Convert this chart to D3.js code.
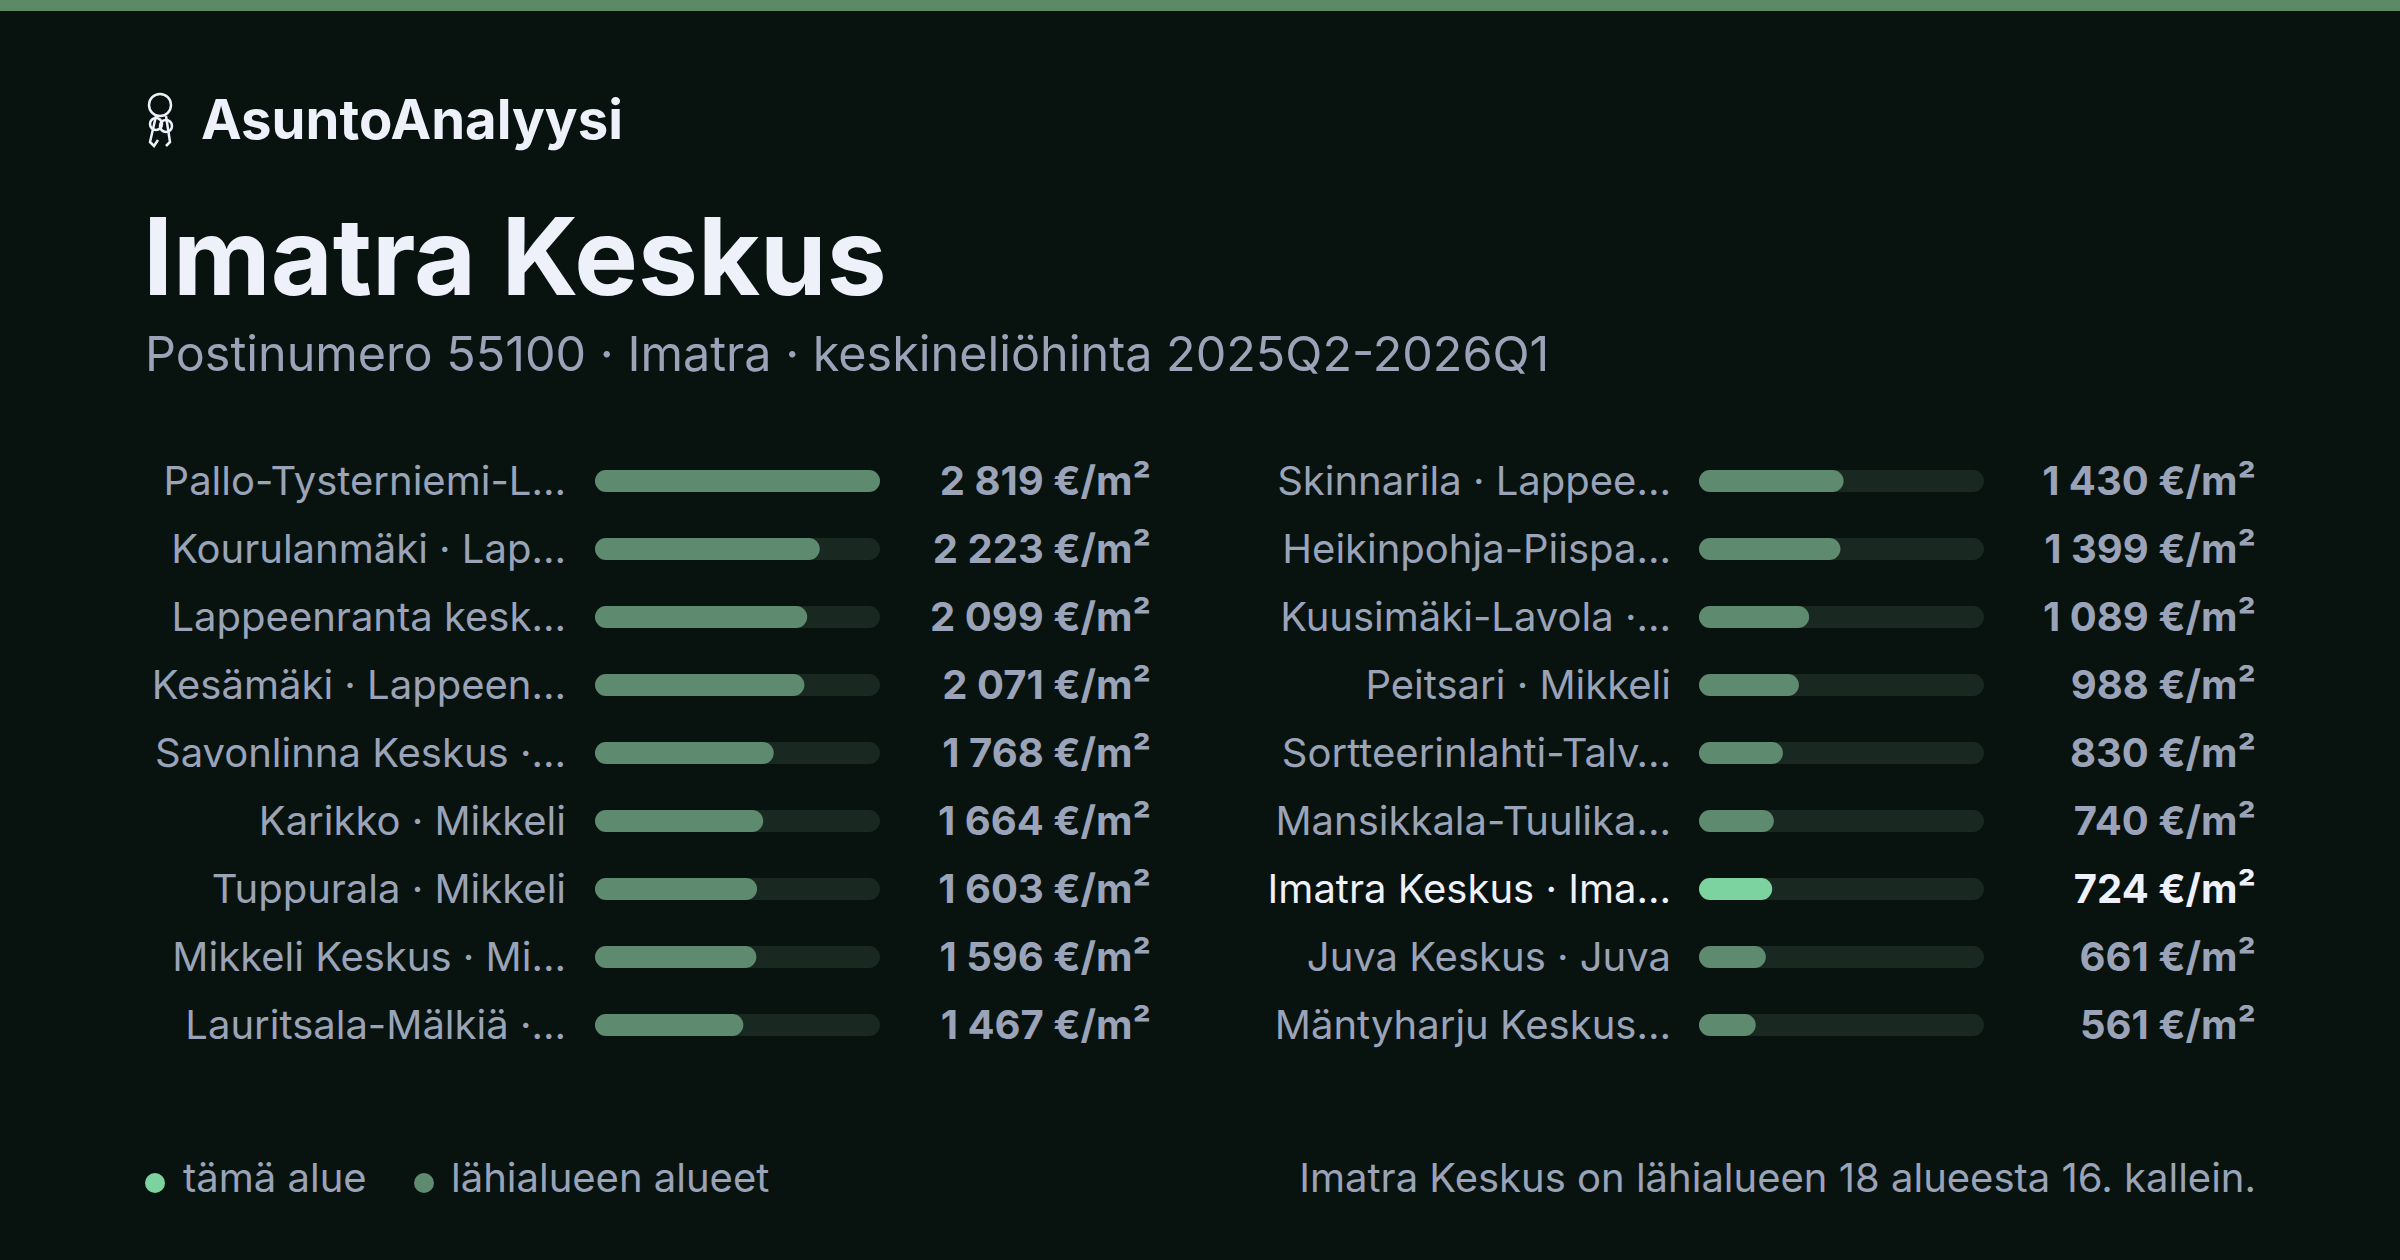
<!DOCTYPE html>
<html><head><meta charset="utf-8">
<script src="https://cdn.jsdelivr.net/npm/d3@7"></script>
<style>body{margin:0;background:#08130f}svg{display:block}</style>
</head><body><svg id="c" width="2400" height="1260"></svg>
<script>
// alueet ja keskineliöhinnat
const leftNames = ["Pallo-Tysterniemi-L…","Kourulanmäki · Lap…","Lappeenranta kesk…","Kesämäki · Lappeen…","Savonlinna Keskus ·…","Karikko · Mikkeli","Tuppurala · Mikkeli","Mikkeli Keskus · Mi…","Lauritsala-Mälkiä ·…"];
const leftValues = [2819,2223,2099,2071,1768,1664,1603,1596,1467];
const rightNames = ["Skinnarila · Lappee…","Heikinpohja-Piispa…","Kuusimäki-Lavola ·…","Peitsari · Mikkeli","Sortteerinlahti-Talv…","Mansikkala-Tuulika…","Imatra Keskus · Ima…","Juva Keskus · Juva","Mäntyharju Keskus…"];
const rightValues = [1430,1399,1089,988,830,740,724,661,561];
const highlight = "Imatra Keskus · Ima…";

const svg = d3.select("#c");
const font = "Inter, 'Noto Sans', sans-serif";
svg.append("rect").attr("width",2400).attr("height",1260).attr("fill","#08130f");
svg.append("rect").attr("width",2400).attr("height",11).attr("fill","#5b8a64");

// avainikoni
const key = svg.append("g").attr("transform","translate(160,120)").attr("fill","none").attr("stroke","#eef0fa").attr("stroke-width",2.5);
key.append("circle").attr("cx",0).attr("cy",-15).attr("r",11);
key.append("path").attr("d","M-4,-4 L-10,22 L-6,26 L-2,20 M6,-4 L10,22 L6,26");
key.append("circle").attr("cx",-4).attr("cy",4).attr("r",6);
key.append("circle").attr("cx",6).attr("cy",6).attr("r",6);

svg.append("text").attr("x",201).attr("y",139).text("AsuntoAnalyysi")
  .attr("font-family",font).attr("font-weight",700).attr("font-size",54.5).attr("fill","#eef0fa");
svg.append("text").attr("x",143).attr("y",295).text("Imatra Keskus")
  .attr("font-family",font).attr("font-weight",700).attr("font-size",107).attr("fill","#eef0fa");
svg.append("text").attr("x",145).attr("y",371).text("Postinumero 55100 · Imatra · keskineliöhinta 2025Q2-2026Q1")
  .attr("font-family",font).attr("font-size",48.5).attr("fill","#9aa3b8");

const maxV = d3.max(leftValues.concat(rightValues));
const y = d3.scaleBand().domain(d3.range(9)).range([447,1059]).paddingInner(0);
const fmt = v => d3.format(",")(v).replace(",", "\u00a0") + " €/m²";

function column(names, values, labelX, barX, valueX) {
  const x = d3.scaleLinear().domain([0,maxV]).range([0,285]);
  const g = svg.append("g");
  names.forEach((n,i) => {
    const cy = y(i) + y.bandwidth()/2;
    const hl = n === highlight;
    g.append("text").attr("x",labelX).attr("y",cy).attr("dy","0.35em").attr("text-anchor","end")
      .attr("font-family",font).attr("font-size",40).attr("fill",hl ? "#eef0fa" : "#9aa3b8").text(n);
    g.append("rect").attr("x",barX).attr("y",cy-11).attr("width",x(maxV)).attr("height",22).attr("rx",11).attr("fill","#1a2822");
    g.append("rect").attr("x",barX).attr("y",cy-11).attr("width",x(values[i])).attr("height",22).attr("rx",11)
      .attr("fill",hl ? "#7dd3a0" : "#5e8a70");
    g.append("text").attr("x",valueX).attr("y",cy).attr("dy","0.35em").attr("text-anchor","end")
      .attr("font-family",font).attr("font-weight",700).attr("font-size",40).attr("fill",hl ? "#eef0fa" : "#9aa3b8").text(fmt(values[i]));
  });
}
column(leftNames, leftValues, 566, 595, 1151);
column(rightNames, rightValues, 1671, 1699, 2256);

// selite
svg.append("circle").attr("cx",155).attr("cy",1183).attr("r",10).attr("fill","#7dd3a0");
svg.append("text").attr("x",183).attr("y",1178).attr("dy","0.35em").text("tämä alue")
  .attr("font-family",font).attr("font-size",40).attr("fill","#9aa3b8");
svg.append("circle").attr("cx",424).attr("cy",1183).attr("r",10).attr("fill","#5e8a70");
svg.append("text").attr("x",451).attr("y",1178).attr("dy","0.35em").text("lähialueen alueet")
  .attr("font-family",font).attr("font-size",40).attr("fill","#9aa3b8");
svg.append("text").attr("x",2256).attr("y",1178).attr("dy","0.35em").attr("text-anchor","end")
  .text("Imatra Keskus on lähialueen 18 alueesta 16. kallein.")
  .attr("font-family",font).attr("font-size",40).attr("fill","#9aa3b8");
</script></body></html>
